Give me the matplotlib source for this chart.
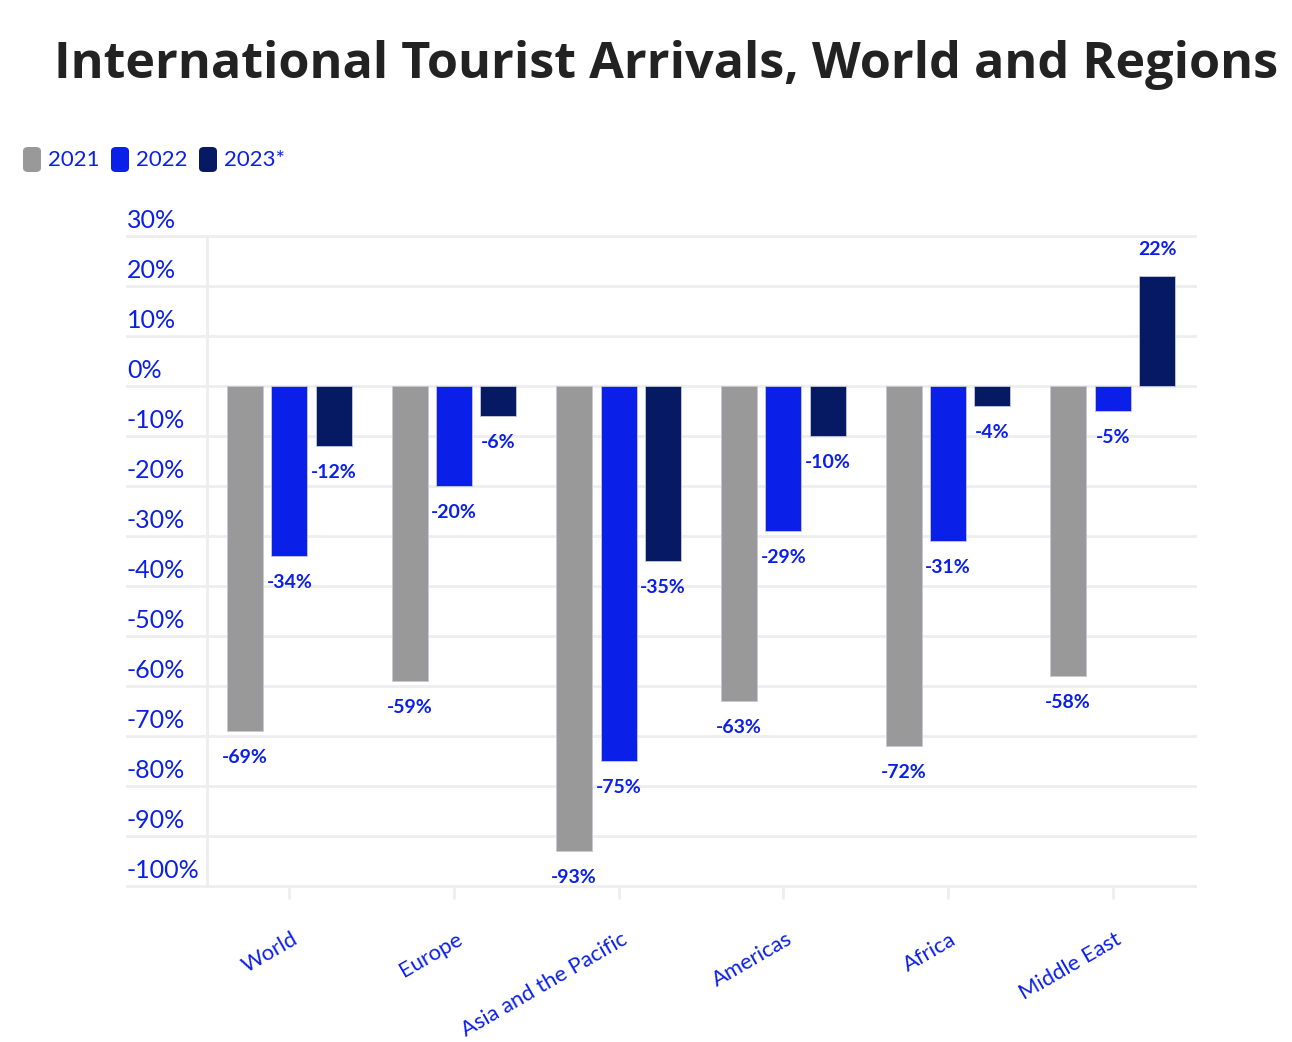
import numpy as np
import matplotlib
matplotlib.use("Agg")
from matplotlib import pyplot as plt
from matplotlib.patches import FancyBboxPatch
from matplotlib import transforms

## --- data --- ##
regions = ["World", "Europe", "Asia and the Pacific", "Americas", "Africa", "Middle East"]
series_names = ["2021", "2022", "2023*"]
vals_2021 = [-69, -59, -93, -63, -72, -58]
vals_2022 = [-34, -20, -75, -29, -31, -5]
vals_2023 = [-12, -6, -35, -10, -4, 22]
y_ticks = list(range(30, -101, -10))

colors = ["#999999", "#0a1fe8", "#061a63"]
blue_text = "#0a1fe8"
grid_col = "#eeeeee"

plt.rcParams["font.family"] = ["Lato", "DejaVu Sans"]

W, H = 1292, 1042
fig = plt.figure(figsize=(W / 100, H / 100), dpi=100)

# plot area in pixels: left 207, right 1195, top 236, bottom 886
ax = fig.add_axes([207 / W, 1 - 886 / H, 988 / W, 650 / H])
ax.set_xlim(-0.5, len(regions) - 0.5)
ax.set_ylim(-100, 30)

x = np.arange(len(regions))
width = 0.219
step = 0.27
all_vals = [vals_2021, vals_2022, vals_2023]

for i, (vals, col) in enumerate(zip(all_vals, colors)):
    bars = ax.bar(x + (i - 1) * step, vals, width, color=col,
                  edgecolor="#c8c8d8", linewidth=0.6, zorder=3)
    for b, v in zip(bars, vals):
        cx = b.get_x() + b.get_width() / 2
        # labels sit just outside the end of each bar
        if v < 0:
            ax.annotate(f"{v}%", (cx, v), xytext=(0, -13), textcoords="offset points",
                        ha="center", va="top", fontsize=14, fontweight="bold",
                        color=blue_text, zorder=4)
        else:
            ax.annotate(f"{v}%", (cx, v), xytext=(0, 13), textcoords="offset points",
                        ha="center", va="bottom", fontsize=14, fontweight="bold",
                        color=blue_text, zorder=4)

# gridlines which run out under the tick labels on the left
left_ext = (127 - 207) / 988
gtrans = transforms.blended_transform_factory(ax.transAxes, ax.transData)
for t in y_ticks:
    ax.plot([left_ext, 1], [t, t], color=grid_col, lw=2, transform=gtrans,
            clip_on=False, zorder=1)
    ax.text(left_ext, t + 0.9, f"{t}%", transform=gtrans, ha="left", va="bottom",
            fontsize=18, color=blue_text)

# vertical line on the left of the plot area
ax.plot([0, 0], [-100, 30], color=grid_col, lw=2, transform=gtrans,
        clip_on=False, zorder=1)

for s in ax.spines.values():
    s.set_visible(False)
ax.set_yticks([])

ax.set_xticks(x)
ax.set_xticklabels(regions, rotation=30, ha="right", rotation_mode="anchor",
                   fontsize=15.8, color=blue_text)
ax.tick_params(axis="x", length=9, width=2, color=grid_col, pad=22)
shift = transforms.ScaledTranslation(2 / 100, 0, fig.dpi_scale_trans)
for lab in ax.get_xticklabels():
    lab.set_transform(lab.get_transform() + shift)
    lab.set_va("top")

# title
fig.text(666 / W, 1 - 65 / H, "International Tourist Arrivals, World and Regions",
         ha="center", va="center", fontsize=36.3, fontweight="bold", color="#222222",
         family=["Open Sans", "DejaVu Sans"])

# legend with rounded squares
leg_x = [23, 111, 199]
for lx, name, col in zip(leg_x, series_names, colors):
    box = FancyBboxPatch((lx / W, 1 - 172 / H), 18 / W, 25 / H,
                         boxstyle="round,pad=0,rounding_size=0.004",
                         transform=fig.transFigure, facecolor=col, edgecolor="none")
    fig.add_artist(box)
    fig.text((lx + 25) / W, 1 - 160 / H, name, ha="left", va="center",
             fontsize=16, color=blue_text)

fig.savefig("out.png", dpi=100, facecolor="white")
